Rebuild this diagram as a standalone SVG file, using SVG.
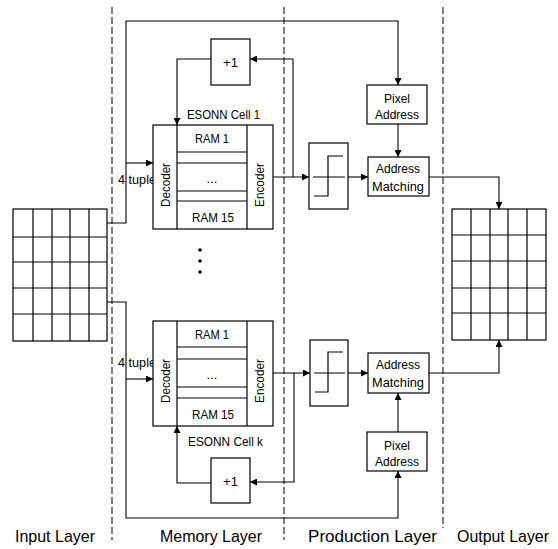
<svg xmlns="http://www.w3.org/2000/svg" width="558" height="549" viewBox="0 0 558 549">
<defs>
<marker id="ah" viewBox="0 0 10 10" refX="10" refY="5" markerWidth="7" markerHeight="7" markerUnits="userSpaceOnUse" orient="auto">
<path d="M0,0 L10,5 L0,10 z" fill="#000"/>
</marker>
<style>
.box{fill:#fff;stroke:#000;stroke-width:1.2}
.ln{fill:none;stroke:#000;stroke-width:1.2}
.cn{fill:none;stroke:#000;stroke-width:1.1}
.ar{marker-end:url(#ah)}
.dash{fill:none;stroke:#000;stroke-width:1;stroke-dasharray:7,3}
text{font-family:"Liberation Sans",Arial,sans-serif;fill:#000}
.t{font-size:13px}
.lab{font-size:17px}
</style>
</defs>
<rect width="558" height="549" fill="#fff"/>

<g id="layers">
<line class="dash" x1="112" y1="7" x2="112" y2="540"/>
<line class="dash" x1="284" y1="7" x2="284" y2="540"/>
<line class="dash" x1="443" y1="7" x2="443" y2="528"/>
<text class="lab" x="15" y="542" textLength="80" lengthAdjust="spacingAndGlyphs">Input Layer</text>
<text class="lab" x="160" y="542" textLength="102" lengthAdjust="spacingAndGlyphs">Memory Layer</text>
<text class="lab" x="308" y="542" textLength="129" lengthAdjust="spacingAndGlyphs">Production Layer</text>
<text class="lab" x="457" y="542" textLength="92" lengthAdjust="spacingAndGlyphs">Output Layer</text>
</g>

<g id="connectors">
<path class="cn ar" d="M107,223 H126 V21 H398 V85"/>
<path class="cn ar" d="M126,163 H153"/>
<path class="cn ar" d="M107,302 H126 V518 H398 V471"/>
<path class="cn ar" d="M126,379 H153"/>
<path class="cn ar" d="M211,59 H177 V125"/>
<path class="cn ar" d="M273,177 H309"/>
<path class="cn ar" d="M293,177 V59 H250"/>
<path class="cn ar" d="M348,177 H368"/>
<path class="cn ar" d="M398,124 V157"/>
<path class="cn ar" d="M429,177 H499 V209"/>
<path class="cn ar" d="M273,373 H310"/>
<path class="cn ar" d="M294,373 V482 H250"/>
<path class="cn ar" d="M211,483 H177 V426"/>
<path class="cn ar" d="M348,373 H368"/>
<path class="cn ar" d="M398,432 V393"/>
<path class="cn ar" d="M429,373 H499 V340"/>
</g>

<g id="input-grid">
<rect class="box" x="13" y="209" width="94" height="132"/>
<path class="ln" d="M33,209 V341 M52,209 V341 M70,209 V341 M89,209 V341 M13,237 H107 M13,262 H107 M13,288 H107 M13,314 H107"/>
</g>

<g id="output-grid">
<rect class="box" x="452" y="209" width="94" height="131"/>
<path class="ln" d="M471,209 V340 M490,209 V340 M508,209 V340 M527,209 V340 M452,235 H546 M452,261 H546 M452,288 H546 M452,313 H546"/>
</g>

<g id="tuple1"><text class="t" x="118" y="184" textLength="38" lengthAdjust="spacingAndGlyphs">4 tuple</text></g>
<g id="tuplek"><text class="t" x="118" y="367" textLength="38" lengthAdjust="spacingAndGlyphs">4 tuple</text></g>

<g id="plus1-top">
<rect class="box" x="211" y="39" width="39" height="46"/>
<text class="t" x="230.5" y="67" text-anchor="middle">+1</text>
</g>

<g id="esonn-cell-1">
<text class="t" x="187" y="119" textLength="73" lengthAdjust="spacingAndGlyphs">ESONN Cell 1</text>
<rect class="box" x="153" y="125" width="120" height="104"/>
<path class="ln" d="M177,125 V229 M247,125 V229 M177,152 H247 M177,163 H247 M177,191 H247 M177,201 H247"/>
<text class="t" x="212" y="143" text-anchor="middle" textLength="34" lengthAdjust="spacingAndGlyphs">RAM 1</text>
<text class="t" x="212" y="183" text-anchor="middle">...</text>
<text class="t" x="213" y="222" text-anchor="middle" textLength="42" lengthAdjust="spacingAndGlyphs">RAM 15</text>
<text class="t" transform="translate(170,185) rotate(-90)" text-anchor="middle" textLength="44" lengthAdjust="spacingAndGlyphs">Decoder</text>
<text class="t" transform="translate(264,185) rotate(-90)" text-anchor="middle" textLength="44" lengthAdjust="spacingAndGlyphs">Encoder</text>
</g>

<g id="ellipsis">
<circle cx="200" cy="250" r="1.8"/>
<circle cx="200" cy="261" r="1.8"/>
<circle cx="200" cy="272" r="1.8"/>
</g>

<g id="step-1">
<rect class="box" x="309" y="143" width="39" height="66"/>
<path class="ln" d="M313,177 H345 M314,196 H328 V156 H343"/>
</g>

<g id="pixel-address-1">
<rect class="box" x="367" y="85" width="60" height="39"/>
<text class="t" x="397" y="103" text-anchor="middle" textLength="26" lengthAdjust="spacingAndGlyphs">Pixel</text>
<text class="t" x="397" y="119" text-anchor="middle" textLength="44" lengthAdjust="spacingAndGlyphs">Address</text>
</g>

<g id="address-matching-1">
<rect class="box" x="368" y="157" width="61" height="39"/>
<text class="t" x="398" y="173" text-anchor="middle" textLength="44" lengthAdjust="spacingAndGlyphs">Address</text>
<text class="t" x="398" y="191" text-anchor="middle" textLength="52" lengthAdjust="spacingAndGlyphs">Matching</text>
</g>

<g id="esonn-cell-k">
<rect class="box" x="153" y="321" width="120" height="105"/>
<path class="ln" d="M177,321 V426 M247,321 V426 M177,347 H247 M177,359 H247 M177,387 H247 M177,398 H247"/>
<text class="t" x="212" y="339" text-anchor="middle" textLength="34" lengthAdjust="spacingAndGlyphs">RAM 1</text>
<text class="t" x="212" y="379" text-anchor="middle">...</text>
<text class="t" x="213" y="419" text-anchor="middle" textLength="42" lengthAdjust="spacingAndGlyphs">RAM 15</text>
<text class="t" transform="translate(170,381) rotate(-90)" text-anchor="middle" textLength="44" lengthAdjust="spacingAndGlyphs">Decoder</text>
<text class="t" transform="translate(264,381) rotate(-90)" text-anchor="middle" textLength="44" lengthAdjust="spacingAndGlyphs">Encoder</text>
<text class="t" x="188" y="446" textLength="75" lengthAdjust="spacingAndGlyphs">ESONN Cell k</text>
</g>

<g id="plus1-bottom">
<rect class="box" x="211" y="458" width="39" height="45"/>
<text class="t" x="230.5" y="486" text-anchor="middle">+1</text>
</g>

<g id="step-k">
<rect class="box" x="310" y="340" width="38" height="66"/>
<path class="ln" d="M314,373 H345 M315,392 H328 V352 H343"/>
</g>

<g id="address-matching-k">
<rect class="box" x="368" y="353" width="61" height="40"/>
<text class="t" x="398" y="369" text-anchor="middle" textLength="44" lengthAdjust="spacingAndGlyphs">Address</text>
<text class="t" x="398" y="387" text-anchor="middle" textLength="52" lengthAdjust="spacingAndGlyphs">Matching</text>
</g>

<g id="pixel-address-k">
<rect class="box" x="367" y="432" width="60" height="39"/>
<text class="t" x="397" y="450" text-anchor="middle" textLength="26" lengthAdjust="spacingAndGlyphs">Pixel</text>
<text class="t" x="397" y="466" text-anchor="middle" textLength="44" lengthAdjust="spacingAndGlyphs">Address</text>
</g>
</svg>
